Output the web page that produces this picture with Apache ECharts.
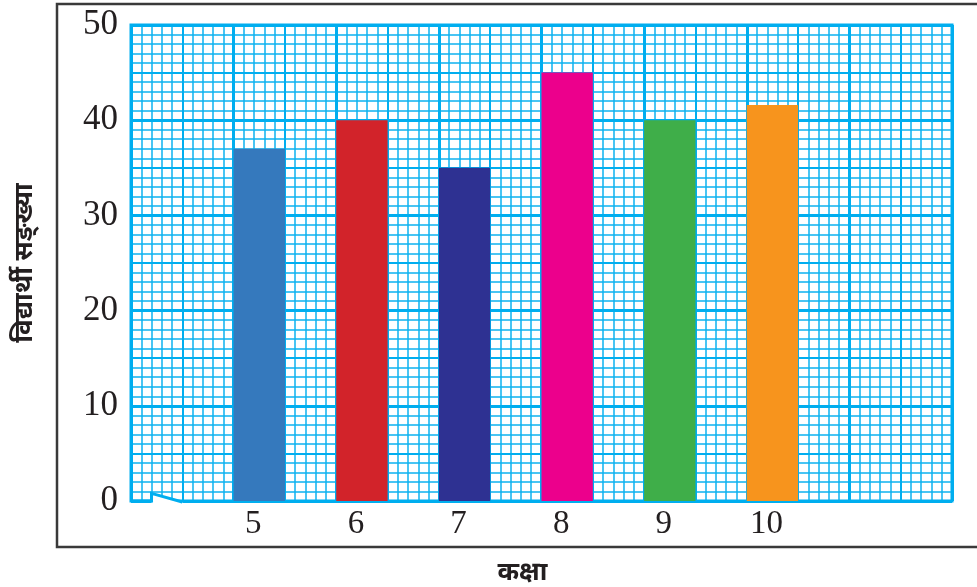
<!DOCTYPE html>
<html>
<head>
<meta charset="utf-8">
<script src="https://cdn.jsdelivr.net/npm/echarts@6/dist/echarts.min.js"></script>
<style>
  html, body { margin: 0; padding: 0; background: #ffffff; }
  #chart { width: 977px; height: 587px; }
</style>
</head>
<body>
<div id="chart"></div>
<script>
// ---- data ----
const classes = ['5', '6', '7', '8', '9', '10'];
const students = [37, 40, 35, 45, 40, 41.6];
const barColors = ['#3579bd', '#d2232a', '#2e3192', '#ec008c', '#3fae49', '#f7941d'];
const yMin = 0, yMax = 50, yStep = 10;
const xTitle = 'कक्षा';
const yTitle = 'विद्यार्थी सङ्ख्या';

// ---- layout of the graph paper (slots of half a major square) ----
const totalSlots = 16, leadSlots = 2, slotStep = 2;
const slotCats = new Array(totalSlots).fill('');
const slotData = new Array(totalSlots).fill(null);
classes.forEach((c, i) => {
  const k = leadSlots + i * slotStep;
  slotCats[k] = c;
  slotData[k] = { value: students[i], itemStyle: { color: barColors[i] } };
});

const cyan = '#00aeef';
const minorCyan = '#0cb2ef';
const serif = "'Liberation Serif', 'Times New Roman', serif";
const deva = "'Noto Sans Devanagari', 'Noto Sans', sans-serif";

function gridAxis(max, interval, width, color, z) {
  return {
    type: 'value', min: 0, max: max, interval: interval, z: z,
    axisLine: { show: false }, axisTick: { show: false }, axisLabel: { show: false },
    splitLine: { show: true, lineStyle: { color: color, width: width, opacity: 1 } }
  };
}

const chart = echarts.init(document.getElementById('chart'), null, { renderer: 'canvas' });
const option = {
  backgroundColor: '#ffffff',
  animation: false,
  grid: { left: 131, right: 25, top: 25, bottom: 86, show: true, backgroundColor: '#ffffff',
          borderColor: cyan, borderWidth: 3, containLabel: false, outerBoundsMode: 'none' },
  xAxis: [
    {
      type: 'category', data: slotCats, boundaryGap: true, z: 5,
      axisLine: { show: false }, axisTick: { show: false }, splitLine: { show: false },
      axisLabel: { interval: 0, color: '#231f20', fontFamily: serif, fontSize: 33, margin: 7,
                   padding: [0, 12, 0, 0] },
      name: xTitle, nameLocation: 'middle', nameGap: 61,
      nameTextStyle: { color: '#231f20', fontFamily: deva, fontWeight: 'bold', fontSize: 26,
                       padding: [0, 38, 0, 0] }
    },
    gridAxis(80, 1, 1.5, minorCyan, 1),
    gridAxis(80, 5, 2, cyan, 2),
    gridAxis(80, 10, 3, cyan, 3)
  ],
  yAxis: [
    {
      type: 'value', min: yMin, max: yMax, interval: yStep, z: 3,
      axisLine: { show: false }, axisTick: { show: false },
      axisLabel: { color: '#231f20', fontFamily: serif, fontSize: 35, margin: 13,
                   padding: [6, 0, 0, 0] },
      splitLine: { show: true, lineStyle: { color: cyan, width: 3 } },
      name: yTitle, nameLocation: 'middle', nameGap: 91, nameRotate: 90,
      nameTextStyle: { color: '#231f20', fontFamily: deva, fontWeight: 'bold', fontSize: 26 }
    },
    gridAxis(yMax, 1, 1.5, minorCyan, 1),
    gridAxis(yMax, 5, 2, cyan, 2)
  ],
  series: [{
    type: 'bar', xAxisIndex: 0, yAxisIndex: 0, z: 10,
    barWidth: '100%', data: slotData
  }]
};
chart.setOption(option);

// axis-break mark at the bottom-left corner + outer frame (decoration)
const P = (x, y) => chart.convertToPixel({ xAxisIndex: 1, yAxisIndex: 0 }, [x, y]);
const bA = P(0, 0), bB = P(2, 0), bC = P(2, 0.8), bD = P(5, -0.1);
const cover1 = P(5, -0.45), cover2 = P(2, -0.45);
chart.setOption({
  graphic: [
    { type: 'polygon', z: 50, shape: { points: [bC, bD, cover1, cover2] }, style: { fill: '#ffffff' } },
    { type: 'polyline', z: 51, shape: { points: [bA, bB, bC, bD] },
      style: { stroke: cyan, lineWidth: 3, fill: null } },
    { type: 'rect', z: 60, shape: { x: 57, y: 4, width: 1000, height: 543 },
      style: { stroke: '#3a3a3a', lineWidth: 2.5, fill: null } }
  ]
});
</script>
</body>
</html>
